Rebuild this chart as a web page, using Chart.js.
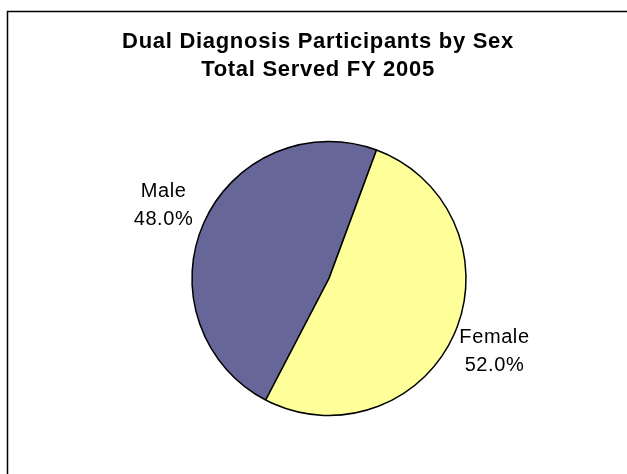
<!DOCTYPE html>
<html>
<head>
<meta charset="utf-8">
<script src="https://cdn.jsdelivr.net/npm/chart.js@4/dist/chart.umd.min.js"></script>
<style>
  html, body { margin: 0; padding: 0; background: #fff; }
  #wrap { position: relative; width: 627px; height: 474px; }
</style>
</head>
<body>
<div id="wrap"><canvas id="pie" width="627" height="474"></canvas></div>
<script>
// data
const titleLines = ["Dual Diagnosis Participants by Sex", "Total Served FY 2005"];
const sexes = ["Male", "Female"];
const shares = [48.0, 52.0];
const sliceColors = ["#666699", "#FFFF99"];

const FONT = "'Liberation Sans', Arial, sans-serif";

// frame + title, drawn like the excel chart box
const frameTitle = {
  id: "frameTitle",
  beforeDraw(chart) {
    const ctx = chart.ctx;
    ctx.save();
    ctx.fillStyle = "#fff";
    ctx.fillRect(0, 0, chart.width, chart.height);
    ctx.strokeStyle = "#000";
    ctx.lineWidth = 1.5;
    ctx.strokeRect(7.5, 11.5, 640, 500);
    ctx.fillStyle = "#000";
    ctx.font = "bold 22px " + FONT;
    ctx.letterSpacing = "0.7px";
    ctx.textAlign = "center";
    ctx.textBaseline = "alphabetic";
    const cx = (7 + 629) / 2;
    ctx.fillText(titleLines[0], cx, 48);
    ctx.fillText(titleLines[1], cx, 76);
    ctx.restore();
  },
};

// labels outside each slice, on its middle angle
const outsideLabels = {
  id: "outsideLabels",
  afterDatasetsDraw(chart) {
    const ctx = chart.ctx;
    const meta = chart.getDatasetMeta(0);
    ctx.save();
    ctx.fillStyle = "#000";
    ctx.font = "20px " + FONT;
    ctx.letterSpacing = "0.6px";
    ctx.textAlign = "center";
    ctx.textBaseline = "middle";
    meta.data.forEach((arc, i) => {
      const p = arc.getProps(["x", "y", "startAngle", "endAngle", "outerRadius"], true);
      const mid = (p.startAngle + p.endAngle) / 2;
      const d = p.outerRadius + 44;
      const x = p.x + Math.cos(mid) * d;
      const y = p.y + Math.sin(mid) * d;
      ctx.fillText(sexes[i], x, y - 14);
      ctx.fillText(shares[i].toFixed(1) + "%", x, y + 14);
    });
    ctx.restore();
  },
};

const ctx = document.getElementById("pie").getContext("2d");
const chart = new Chart(ctx, {
  type: "pie",
  data: {
    labels: sexes,
    datasets: [
      {
        data: shares,
        backgroundColor: sliceColors,
        borderColor: "#000",
        borderWidth: 1.5,
        radius: 137,
      },
    ],
  },
  options: {
    responsive: false,
    animation: false,
    rotation: 207.5,
    layout: { padding: { left: 40, right: 9, top: 100, bottom: 17 } },
    plugins: {
      legend: { display: false },
      title: { display: false },
      tooltip: { enabled: false },
    },
  },
  plugins: [frameTitle, outsideLabels],
});
</script>
</body>
</html>
